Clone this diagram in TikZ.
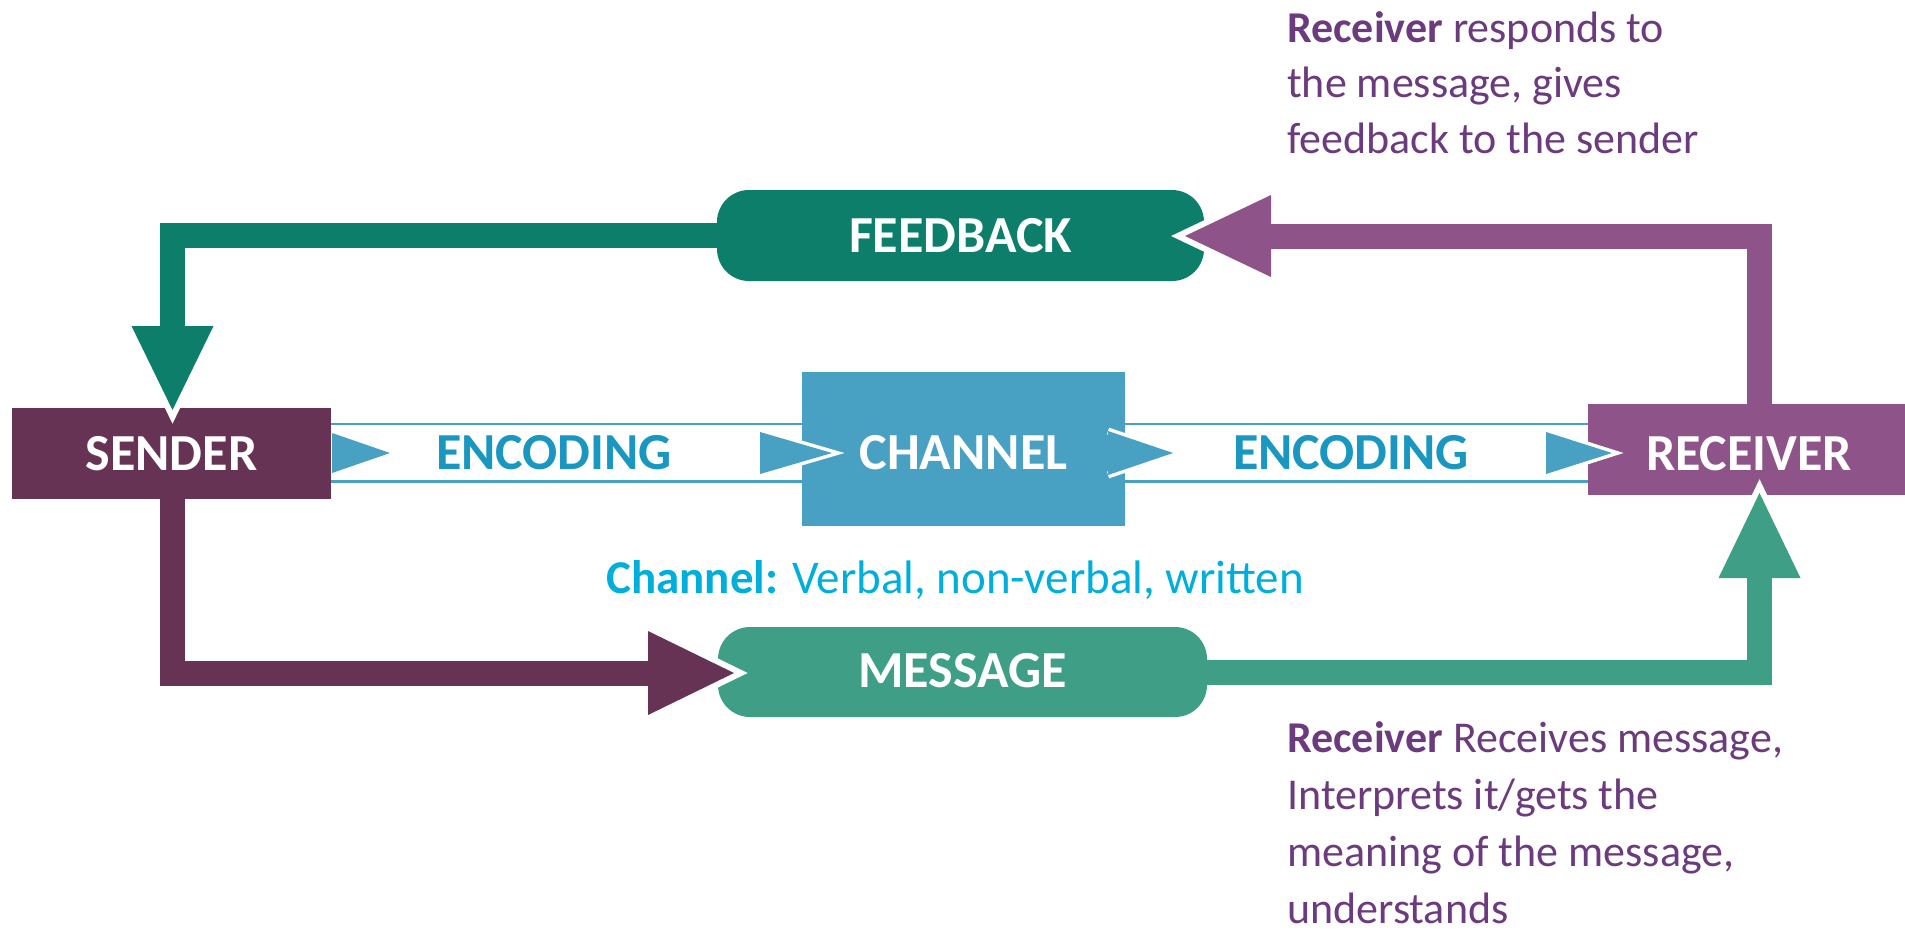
\documentclass[tikz,border=0pt]{standalone}
\usepackage{fontspec}
\setmainfont{Carlito}
\definecolor{sendercol}{HTML}{663354}
\definecolor{rcvcol}{HTML}{8E5489}
\definecolor{fbgreen}{HTML}{0C7E6A}
\definecolor{msggreen}{HTML}{3E9E86}
\definecolor{chblue}{HTML}{48A0C3}
\definecolor{enctext}{HTML}{1A97C0}
\definecolor{captext}{HTML}{00AEDB}
\definecolor{annot}{HTML}{6B3B7D}
\newcommand\ahead[6]{%
  \begin{scope}[shift={#2}, rotate=#3]
    \draw[white, line width=#6, line join=miter, line cap=butt] (-#4,-#5) -- (0,0) -- (-#4,#5);
    \fill[#1] (-#4,-#5) -- (0,0) -- (-#4,#5) -- cycle;
  \end{scope}}
\begin{document}
\begin{tikzpicture}[x=1pt,y=-1pt,
  boxlbl/.style={rectangle, inner sep=0pt, text=white, font=\fontsize{52}{60}\selectfont\bfseries, text height=33pt, text depth=0pt},
  pill/.style={boxlbl, rounded corners=32pt},
  enc/.style={inner sep=0pt, text=enctext, font=\fontsize{52}{60}\selectfont\bfseries, text height=33pt, text depth=0pt},
  bar/.style={line width=25pt, line join=miter, line cap=butt},
  band/.style={chblue, line width=2.5pt},
  note/.style={inner sep=0pt, anchor=base west, text=annot, font=\fontsize{44}{55.5}\selectfont}]
\useasboundingbox (0,0) rectangle (1905,932);

% helper coordinates
\coordinate (bt) at (0,424);
\coordinate (bb) at (0,481.5);
\coordinate (sx) at (172.5,0);
\coordinate (rx) at (1759.5,0);
\coordinate (gdown) at (172.5,326);
\coordinate (pback) at (1271,236);
\coordinate (mback) at (648,673);
\coordinate (gup) at (1759.5,578);

% boxes and pills
\node[boxlbl, fill=sendercol, minimum width=319pt, minimum height=91pt] (sender) at (171.5,453.5) {SENDER};
\node[boxlbl, fill=chblue, minimum width=323pt, minimum height=154pt, text height=41pt] (channel) at (963.5,449) {CHANNEL};
\node[boxlbl, fill=rcvcol, minimum width=322pt, minimum height=91pt, text height=41pt] (receiver) at (1749,449.5) {RECEIVER};
\node[pill, fill=fbgreen, minimum width=487pt, minimum height=91pt] (feedback) at (960.5,235.5) {FEEDBACK};
\node[pill, fill=msggreen, minimum width=489pt, minimum height=90pt, text height=30pt] (message) at (962.5,672) {MESSAGE};

% encoding band
\draw[band] (sender.east |- bt) -- (channel.west |- bt);
\draw[band] (sender.east |- bb) -- (channel.west |- bb);
\draw[band] (channel.east |- bt) -- (receiver.west |- bt);
\draw[band] (channel.east |- bb) -- (receiver.west |- bb);
\node[enc] (enc1) at (554,453) {ENCODING};
\node[enc] (enc2) at (1351,453) {ENCODING};

% thick connectors
\draw[bar, fbgreen] (feedback.west) -| (gdown);
\draw[bar, rcvcol] (receiver.north -| rx) |- (pback);
\draw[bar, sendercol] (sender.south -| sx) |- (mback);
\draw[bar, msggreen] (message.east) -| (gup);

% big arrowheads
\ahead{fbgreen}{(172.5,410)}{-90}{84}{41}{12}
\ahead{rcvcol}{(1185,236)}{180}{86}{41}{12}
\ahead{sendercol}{(734,673)}{0}{86}{42}{12}
\ahead{msggreen}{(1759.5,493)}{90}{85}{41}{12}

% small blue arrowheads
\ahead{chblue}{(390,453)}{0}{58}{20}{0.1}
\ahead{chblue}{(832,453)}{0}{72}{21}{7}
\ahead{chblue}{(1173,453)}{0}{65}{22}{7}
\ahead{chblue}{(1612,453)}{0}{66}{21}{7}

% captions
\node[inner sep=0pt, anchor=base west, text=captext, font=\fontsize{47}{56}\selectfont] (caption) at (606,593) {\textbf{Channel:} Verbal, non-verbal, written};

\node[note] (note1) at (1287,42) {\begin{tabular}[t]{@{}l@{}}\textbf{Receiver} responds to\\the message, gives\\feedback to the sender\end{tabular}};
\node[note, font=\fontsize{44}{57}\selectfont] (note2) at (1287,752) {\begin{tabular}[t]{@{}l@{}}\textbf{Receiver} Receives message,\\Interprets it/gets the\\meaning of the message,\\understands\end{tabular}};
\end{tikzpicture}
\end{document}
